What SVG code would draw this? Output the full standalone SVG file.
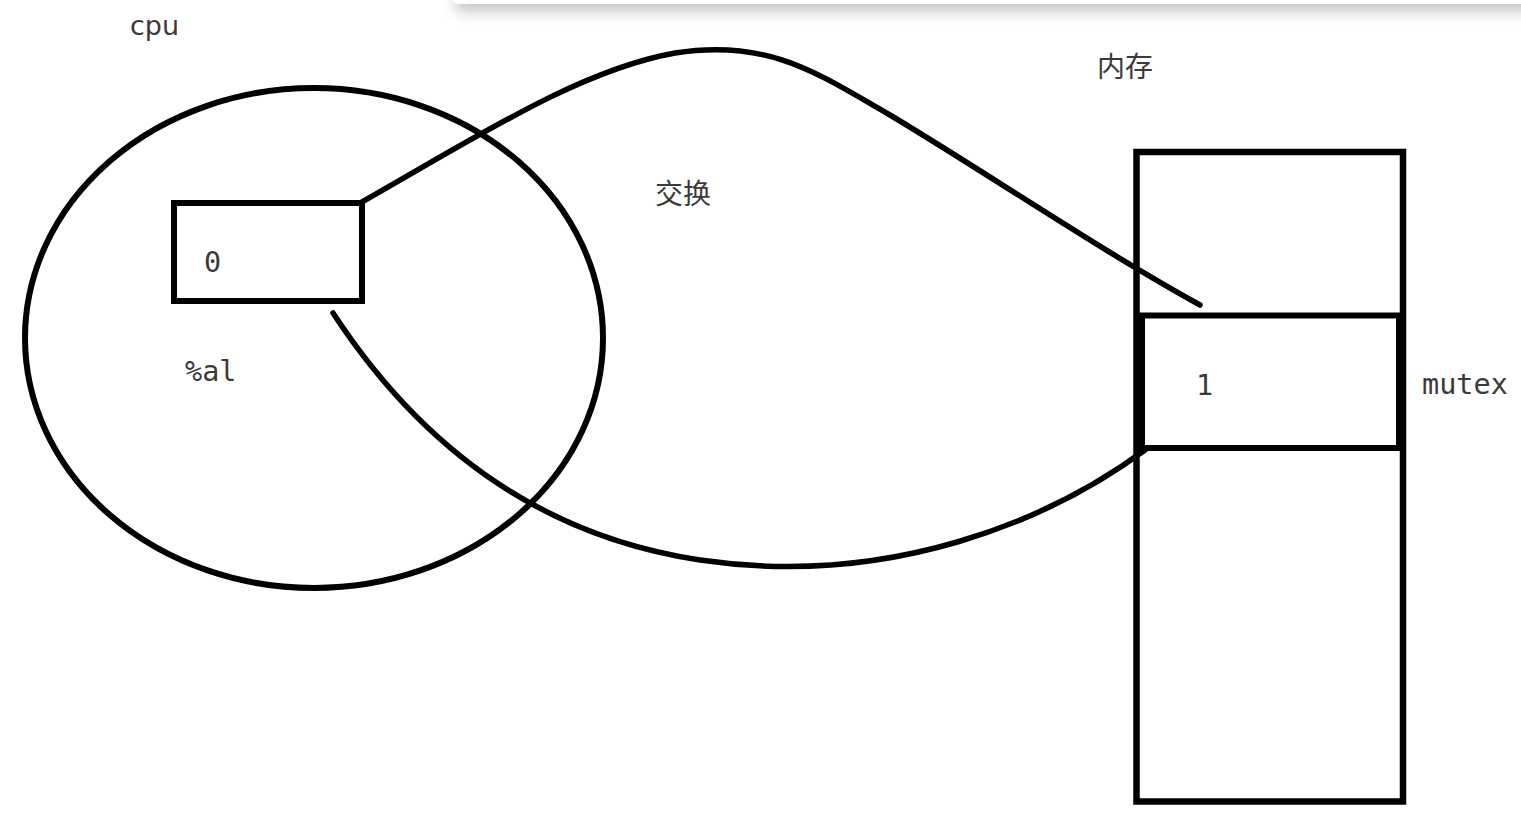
<svg xmlns="http://www.w3.org/2000/svg" width="1521" height="825" viewBox="0 0 1521 825">
<defs>
<filter id="sh" x="-5%" y="-100%" width="110%" height="400%">
<feGaussianBlur stdDeviation="7"/>
</filter>
</defs>
<style>
.s{fill:none;stroke:#000;stroke-width:5.5;stroke-linecap:round;stroke-linejoin:miter}
.t{font-family:"DejaVu Sans Mono","Liberation Mono",monospace;font-size:28.5px;fill:#3a3a3a}
.c{font-family:"Noto Sans CJK SC","Noto Sans",sans-serif;font-size:28px;fill:#3a3a3a}
</style>
<rect width="1521" height="825" fill="#fff"/>
<g id="topbar">
<rect x="455" y="-20" width="1100" height="32" rx="8" fill="#000" opacity="0.22" filter="url(#sh)"/>
<rect x="450" y="-20" width="1100" height="24" rx="8" fill="#fff"/>
</g>
<g id="cpu">
<ellipse cx="314" cy="338" rx="289" ry="250" class="s" style="stroke-width:6"/>
<text x="130" y="35" class="c" style="font-family:'DejaVu Sans',sans-serif;font-size:27px">cpu</text>
</g>
<g id="register">
<rect x="174" y="203" width="188" height="98" class="s" style="stroke-width:6"/>
<text x="204" y="272" class="t">0</text>
<text x="185" y="381" class="t">%al</text>
</g>
<g id="memory">
<rect x="1136.5" y="152" width="266.5" height="649.5" class="s" style="stroke-width:6.5"/>
<text x="1097" y="77" class="c">内存</text>
</g>
<g id="mutex">
<rect x="1141" y="315.5" width="258" height="132.5" class="s" style="stroke-width:6"/>
<line x1="1141" y1="315" x2="1141" y2="450" class="s" style="stroke-width:8;stroke-linecap:butt"/>
<text x="1196" y="395" class="t">1</text>
<text x="1422" y="394" class="t">mutex</text>
</g>
<g id="connectors">
<path class="s" d="M362,202 C480,135 580,70 675,53 C770,38 820,75 890,115 C990,175 1100,250 1200,305"/>
<path class="s" d="M333,313 C390,400 500,530 700,560 C890,588 1050,520 1145,450"/>
<text x="655" y="204" class="c">交换</text>
</g>
</svg>
